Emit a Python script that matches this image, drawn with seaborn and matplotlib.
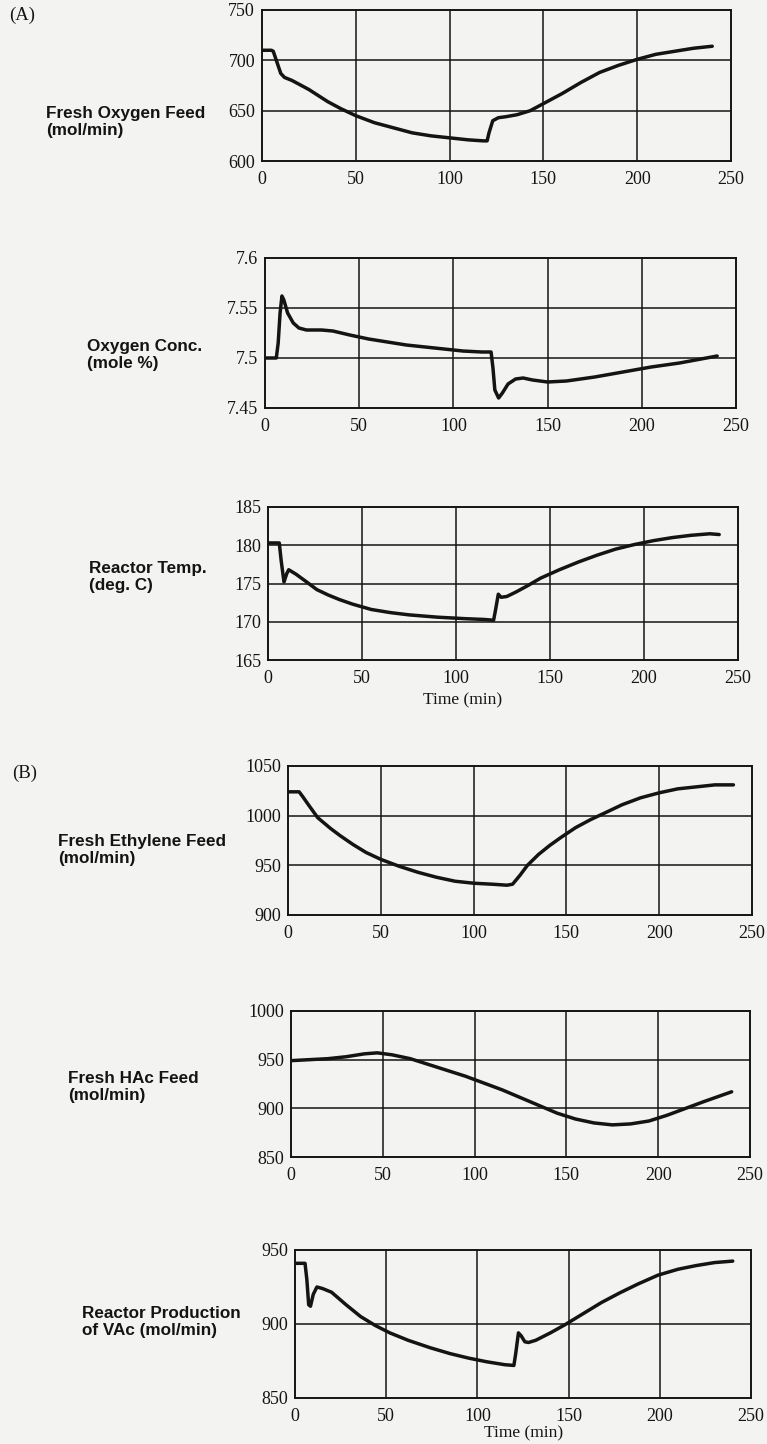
import numpy as np
import pandas as pd
import matplotlib
matplotlib.use("Agg")
import matplotlib.pyplot as plt
import seaborn as sns

# ---- data: response of the VAc plant to a reactor temperature change ----
time_ticks = [0, 50, 100, 150, 200, 250]

# (A) fresh oxygen feed (mol/min)
t_o2_feed = [0, 5, 6, 8, 10, 12, 16, 20, 25, 30, 35, 42, 50, 60, 70, 80, 90, 100,
             110, 118, 120, 121, 123, 126, 130, 136, 143, 150, 160, 170, 180, 190,
             200, 210, 220, 230, 240]
o2_feed = [710, 710, 709, 698, 687, 683, 680, 676, 671, 665, 659, 652, 645, 638,
           633, 628, 625, 623, 621, 620, 620, 628, 640, 643, 644, 646, 650, 657,
           667, 678, 688, 695, 701, 706, 709, 712, 714]

# (A) oxygen concentration (mole %)
t_o2_conc = [0, 6, 7, 8, 9, 10, 12, 15, 18, 22, 30, 36, 45, 55, 65, 75, 85, 95,
             105, 115, 120, 121, 122, 124, 126, 129, 133, 137, 142, 150, 160, 175,
             190, 205, 220, 240]
o2_conc = [7.50, 7.50, 7.515, 7.545, 7.562, 7.558, 7.545, 7.535, 7.530, 7.528,
           7.528, 7.527, 7.523, 7.519, 7.516, 7.513, 7.511, 7.509, 7.507, 7.506,
           7.506, 7.49, 7.468, 7.46, 7.465, 7.474, 7.479, 7.480, 7.478, 7.476,
           7.477, 7.481, 7.486, 7.491, 7.495, 7.502]

# (A) reactor temperature (deg C)
t_temp = [0, 6, 7, 8.5, 10, 11, 15, 20, 26, 32, 38, 45, 55, 65, 75, 90, 105, 115,
          120, 121, 122.5, 124, 127, 132, 138, 145, 155, 165, 175, 185, 195, 205,
          215, 225, 235, 240]
temp = [180.3, 180.3, 178.0, 175.2, 176.3, 176.8, 176.2, 175.3, 174.2, 173.5,
        172.9, 172.3, 171.6, 171.2, 170.9, 170.6, 170.4, 170.3, 170.2, 171.5,
        173.6, 173.2, 173.3, 173.9, 174.7, 175.7, 176.8, 177.8, 178.7, 179.5,
        180.1, 180.6, 181.0, 181.3, 181.5, 181.4]

# (B) fresh ethylene feed (mol/min)
t_c2h4 = [0, 6, 8, 11, 16, 23, 28, 35, 42, 50, 60, 70, 80, 90, 100, 110, 118,
          121, 125, 129, 135, 141, 147, 155, 163, 171, 180, 190, 200, 210, 220,
          230, 240]
c2h4_feed = [1024, 1024, 1019, 1011, 998, 987, 980, 971, 963, 956, 949, 943, 938,
             934, 932, 931, 930, 931, 940, 950, 961, 970, 978, 988, 996, 1003,
             1011, 1018, 1023, 1027, 1029, 1031, 1031]

# (B) fresh acetic acid feed (mol/min)
t_hac = [0, 10, 20, 30, 40, 47, 55, 65, 75, 85, 95, 105, 115, 125, 135, 145, 155,
         165, 175, 185, 195, 205, 215, 225, 240]
hac_feed = [949, 950, 951, 953, 956, 957, 955, 951, 945, 939, 933, 926, 919, 911,
            903, 895, 889, 885, 883, 884, 887, 893, 900, 907, 917]

# (B) reactor production of VAc (mol/min)
t_vac = [0, 5.5, 6.5, 7.5, 8.5, 10, 12, 15, 20, 28, 36, 44, 52, 62, 74, 85, 95,
         105, 115, 120, 121, 122.5, 124, 126, 128, 132, 140, 148, 158, 168, 178,
         188, 199, 210, 220, 230, 240]
vac_prod = [941, 941, 930, 913, 912, 920, 925, 924, 921.5, 913, 905, 899, 894,
            889, 884, 880, 877, 874.5, 872.5, 872, 880, 894, 892, 888, 887.5, 889,
            894, 899.5, 907, 914.5, 921, 927, 933, 937, 939.5, 941.5, 942.5]

panels = [
    # (time, values, y ticks, y tick labels, label, axes box in px: left, right, top, bottom)
    (t_o2_feed, o2_feed, [600, 650, 700, 750], ["600", "650", "700", "750"],
     "Fresh Oxygen Feed\n(mol/min)", (262, 731, 10, 161), (46, 122)),
    (t_o2_conc, o2_conc, [7.45, 7.5, 7.55, 7.6], ["7.45", "7.5", "7.55", "7.6"],
     "Oxygen Conc.\n(mole %)", (265, 736, 258, 408), (87, 355)),
    (t_temp, temp, [165, 170, 175, 180, 185], ["165", "170", "175", "180", "185"],
     "Reactor Temp.\n(deg. C)", (268, 738, 507, 660), (89, 577)),
    (t_c2h4, c2h4_feed, [900, 950, 1000, 1050], ["900", "950", "1000", "1050"],
     "Fresh Ethylene Feed\n(mol/min)", (288, 752, 766, 915), (58, 850)),
    (t_hac, hac_feed, [850, 900, 950, 1000], ["850", "900", "950", "1000"],
     "Fresh HAc Feed\n(mol/min)", (291, 750, 1011, 1157), (68, 1087)),
    (t_vac, vac_prod, [850, 900, 950], ["850", "900", "950"],
     "Reactor Production\nof VAc (mol/min)", (295, 751, 1250, 1398), (82, 1322)),
]

W, H = 767, 1444
PAPER = "#f3f3f1"
INK = "#141414"

sns.set_theme(style="white")
plt.rcParams["font.family"] = ["Liberation Serif", "DejaVu Serif"]

fig = plt.figure(figsize=(W / 100, H / 100), dpi=100, facecolor=PAPER)


def px_box(left, right, top, bottom):
    return [left / W, 1 - bottom / H, (right - left) / W, (bottom - top) / H]


axes = []
for t, v, yt, ytl, label, box, lab_pos in panels:
    ax = fig.add_axes(px_box(*box))
    ax.set_facecolor(PAPER)
    df = pd.DataFrame({"t": t, "v": v})
    sns.lineplot(data=df, x="t", y="v", ax=ax, color=INK, linewidth=2.5,
                 estimator=None, sort=False, legend=False)
    ax.set_xlim(0, 250)
    ax.set_ylim(yt[0], yt[-1])
    ax.set_xticks(time_ticks)
    ax.set_xticklabels([str(x) for x in time_ticks])
    ax.set_yticks(yt)
    ax.set_yticklabels(ytl)
    ax.set_xlabel("")
    ax.set_ylabel("")
    for x in time_ticks[1:-1]:
        ax.axvline(x, color=INK, lw=1.1, zorder=1)
    for y in yt[1:-1]:
        ax.axhline(y, color=INK, lw=1.1, zorder=1)
    for s in ax.spines.values():
        s.set_visible(True)
        s.set_color(INK)
        s.set_linewidth(1.4)
    ax.tick_params(axis="both", length=0, labelsize=13, colors=INK)
    ax.tick_params(axis="x", pad=7)
    ax.tick_params(axis="y", pad=5)
    fig.text(lab_pos[0] / W, 1 - lab_pos[1] / H, label, ha="left", va="center",
             fontsize=12.3, fontweight="bold", color=INK, linespacing=1.15,
             family=["Liberation Sans", "DejaVu Sans"])
    axes.append(ax)

# panel letters and time axis titles
fig.text(9 / W, 1 - 15 / H, "(A)", ha="left", va="center", fontsize=13.5, color=INK)
fig.text(12 / W, 1 - 773 / H, "(B)", ha="left", va="center", fontsize=13.5, color=INK)
fig.text(463 / W, 1 - 700 / H, "Time (min)", ha="center", va="center",
         fontsize=12.5, color=INK)
fig.text(524 / W, 1 - 1433 / H, "Time (min)", ha="center", va="center",
         fontsize=12.5, color=INK)

fig.savefig("out.png", dpi=100, facecolor=PAPER)
